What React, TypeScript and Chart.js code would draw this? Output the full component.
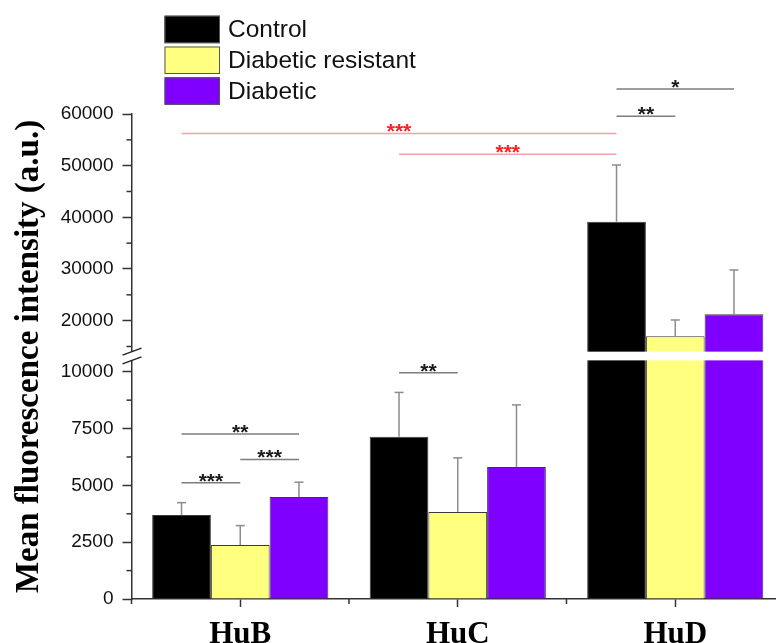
import { useEffect, useRef } from 'react';
import { Chart, registerables, LinearScale } from 'chart.js';

// ---------- data ----------
const categories = ['HuB', 'HuC', 'HuD'];
const seriesNames = ['Control', 'Diabetic resistant', 'Diabetic'];
const controlMean = [3700, 7140, 39160];
const controlSD = [540, 1950, 10970];
const resistantMean = [2380, 3830, 16980];
const resistantSD = [850, 2380, 3150];
const diabeticMean = [4490, 5810, 21240];
const diabeticSD = [650, 2730, 8570];
const yTicks = [0, 2500, 5000, 7500, 10000, 20000, 30000, 40000, 50000, 60000];
const yMinorTicks = [1250, 3750, 6250, 8750, 15000, 25000, 35000, 45000, 55000];
const yBreakLow = 10500; // top of lower segment
const yBreakHigh = 14000; // bottom of upper segment

// significance comparisons: [category, series] -> [category, series] at a level
const sigLabel = ['***', '***', '*', '**', '**', '***', '***', '**'];
const sigFromCat = [0, 1, 2, 2, 0, 0, 0, 1];
const sigFromSeries = [0, 0, 0, 0, 0, 1, 0, 0];
const sigToCat = [2, 2, 2, 2, 0, 0, 0, 1];
const sigToSeries = [0, 0, 2, 1, 2, 2, 1, 1];
const sigLevel = [56230, 52200, 64840, 59560, 7260, 6140, 5120, 9960];

const means = [controlMean, resistantMean, diabeticMean];
const sds = [controlSD, resistantSD, diabeticSD];
const colors = ['#000000', '#ffff80', '#8000ff'];

// ---------- broken linear scale ----------
class BrokenLinearScale extends LinearScale {
  static id = 'brokenLinear';
  static defaults = LinearScale.defaults;

  brk() {
    const o: any = (this as any).options.brk || {};
    return { low: o.low, high: o.high, lowFrac: o.lowFrac, highFrac: o.highFrac };
  }
  decimalFor(v: number) {
    const { low, high, lowFrac, highFrac } = this.brk();
    const min = (this as any).min;
    const max = (this as any).max;
    if (v <= low) return ((v - min) / (low - min)) * lowFrac;
    if (v >= high) return highFrac + ((v - high) / (max - high)) * (1 - highFrac);
    return lowFrac + ((v - low) / (high - low)) * (highFrac - lowFrac);
  }
  getPixelForValue(value: number) {
    return (this as any).getPixelForDecimal(this.decimalFor(value));
  }
  getValueForPixel(pixel: number) {
    const { low, high, lowFrac, highFrac } = this.brk();
    const min = (this as any).min;
    const max = (this as any).max;
    const d = (this as any).getDecimalForPixel(pixel);
    if (d <= lowFrac) return min + (d / lowFrac) * (low - min);
    if (d >= highFrac) return high + ((d - highFrac) / (1 - highFrac)) * (max - high);
    return low + ((d - lowFrac) / (highFrac - lowFrac)) * (high - low);
  }
}

Chart.register(...registerables, BrokenLinearScale as any);

function line(ctx: CanvasRenderingContext2D, x1: number, y1: number, x2: number, y2: number) {
  ctx.beginPath();
  ctx.moveTo(x1, y1);
  ctx.lineTo(x2, y2);
  ctx.stroke();
}

const decorPlugin = {
  id: 'decor',
  afterDatasetsDraw(chart: any) {
    const ctx: CanvasRenderingContext2D = chart.ctx;
    const xs = chart.scales.x;
    const ys = chart.scales.y;
    const area = chart.chartArea;
    ctx.save();

    // error bars (upper whisker only)
    ctx.strokeStyle = '#8c8c8c';
    ctx.lineWidth = 1.5;
    sds.forEach((sd, s) => {
      const meta = chart.getDatasetMeta(s);
      meta.data.forEach((bar: any, i: number) => {
        const top = ys.getPixelForValue(means[s][i] + sd[i]);
        line(ctx, bar.x, bar.y, bar.x, top);
        line(ctx, bar.x - 4.5, top, bar.x + 4.5, top);
      });
    });

    // axis break
    const gTop = ys.getPixelForValue(yBreakHigh);
    const gBot = ys.getPixelForValue(yBreakLow);
    ctx.fillStyle = '#ffffff';
    ctx.fillRect(area.left - 1, gTop, area.right - area.left + 2, gBot - gTop);
    ctx.strokeStyle = '#222';
    ctx.lineWidth = 1.5;
    line(ctx, area.left - 9, gTop + 3.5, area.left + 10, gTop - 3.5);
    line(ctx, area.left - 9, gBot + 3.5, area.left + 10, gBot - 3.5);

    // minor ticks
    ctx.strokeStyle = '#333';
    ctx.lineWidth = 1.5;
    yMinorTicks.forEach((v) => {
      const py = ys.getPixelForValue(v);
      line(ctx, area.left - 5, py, area.left, py);
    });
    for (let k = 0; k <= categories.length; k++) {
      const px = xs.getPixelForValue(k - 0.5);
      line(ctx, px, area.bottom, px, area.bottom + 5);
    }

    // significance lines
    ctx.textAlign = 'center';
    ctx.textBaseline = 'alphabetic';
    ctx.font = 'bold 21px "Liberation Sans"';
    sigLabel.forEach((lab, k) => {
      const x1 = chart.getDatasetMeta(sigFromSeries[k]).data[sigFromCat[k]].x;
      const x2 = chart.getDatasetMeta(sigToSeries[k]).data[sigToCat[k]].x;
      const py = ys.getPixelForValue(sigLevel[k]);
      const red = sigFromCat[k] !== sigToCat[k];
      ctx.strokeStyle = red ? '#f0a4a4' : '#7c7c7c';
      ctx.lineWidth = 1.5;
      line(ctx, x1, py, x2, py);
      ctx.fillStyle = red ? '#ff2020' : '#1a1a1a';
      ctx.fillText(lab, (x1 + x2) / 2, py + 5);
    });

    // legend
    const ds = chart.data.datasets;
    ctx.textAlign = 'left';
    ctx.textBaseline = 'middle';
    ctx.font = '24.5px "Liberation Sans"';
    ds.forEach((d: any, i: number) => {
      const bx = 164.5;
      const by = 15.7 + i * 30.8;
      ctx.fillStyle = d.backgroundColor;
      ctx.fillRect(bx, by, 55.5, 27.5);
      ctx.strokeStyle = '#555';
      ctx.lineWidth = 1;
      ctx.strokeRect(bx + 0.5, by + 0.5, 54.5, 26.5);
      ctx.fillStyle = '#111';
      ctx.fillText(d.label, 228, by + 14.5);
    });

    ctx.restore();
  },
};

export default function App() {
  const ref = useRef<HTMLCanvasElement | null>(null);

  useEffect(() => {
    if (!ref.current) return;
    const chart = new Chart(ref.current, {
      type: 'bar',
      data: {
        labels: categories,
        datasets: seriesNames.map((name, s) => ({
          label: name,
          data: means[s],
          backgroundColor: colors[s],
          borderColor: '#3a3a3a',
          borderWidth: 1,
          categoryPercentage: 0.81,
          barPercentage: 1,
        })),
      },
      options: {
        animation: false,
        responsive: false,
        events: [],
        layout: { padding: { top: 114, right: 6, left: 0, bottom: 0 } },
        plugins: { legend: { display: false }, tooltip: { enabled: false } },
        scales: {
          x: {
            type: 'category',
            grid: {
              display: true,
              drawOnChartArea: false,
              offset: false,
              tickLength: 8,
              tickWidth: 1.5,
              tickColor: '#333',
            },
            border: { color: '#333', width: 1.5 },
            ticks: {
              color: '#000',
              padding: 9,
              font: { family: '"Liberation Serif"', weight: 'bold', size: 31 },
            },
            afterFit: (s: any) => {
              s.height = 44;
            },
          },
          y: {
            type: 'brokenLinear' as any,
            min: 0,
            max: 60000,
            brk: { low: yBreakLow, high: yBreakHigh, lowFrac: 0.492, highFrac: 0.51 },
            afterBuildTicks: (s: any) => {
              s.ticks = yTicks.map((v) => ({ value: v }));
            },
            grid: {
              drawOnChartArea: false,
              tickLength: 9,
              tickWidth: 1.5,
              tickColor: '#333',
            },
            border: { color: '#333', width: 1.5 },
            ticks: {
              autoSkip: false,
              padding: 9,
              color: '#111',
              font: { family: '"Liberation Sans"', size: 19 },
              callback: (v: any) => String(v),
            },
            title: {
              display: true,
              text: 'Mean fluorescence intensity (a.u.)',
              color: '#000',
              padding: { top: 10, bottom: 0 },
              font: { family: '"Liberation Serif"', weight: 'bold', size: 33 },
            },
            afterFit: (s: any) => {
              s.width = 131.5;
            },
          } as any,
        },
      } as any,
      plugins: [decorPlugin],
    });
    return () => chart.destroy();
  }, []);

  return (
    <div
      style={{
        position: 'fixed',
        left: 0,
        top: 0,
        width: 776,
        height: 643,
        overflow: 'hidden',
        background: '#ffffff',
      }}
    >
      <canvas ref={ref} width={790} height={643} style={{ display: 'block' }} />
    </div>
  );
}
